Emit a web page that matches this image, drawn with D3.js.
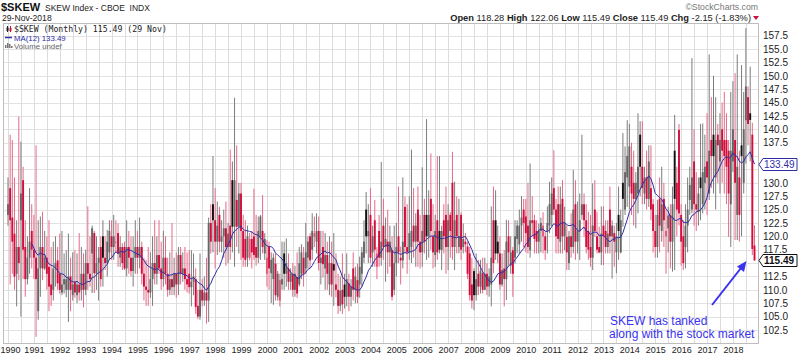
<!DOCTYPE html>
<html><head><meta charset="utf-8">
<script src="https://cdn.jsdelivr.net/npm/d3@7"></script>
<style>
body{margin:0;background:#fff;}
svg{display:block;font-family:"Liberation Sans",Arial,sans-serif;}
</style></head><body>
<svg id="c" width="800" height="358"></svg>
<script>
// ---- data (monthly OHLC, one row per year) ----
const yearLabels = ["1990","1991","1992","1993","1994","1995","1996","1997","1998","1999","2000","2001","2002","2003","2004","2005","2006","2007","2008","2009","2010","2011","2012","2013","2014","2015","2016","2017","2018"];
const openRows = [
[124,129,123.5,120.5,113,118,123,130.5,118,112,116,121],
[117.5,116,106,114,118,114,116,114.3,111,110,114,115.5],
[113,109.5,111,110,110,112.5,109,111.5,109,111,110,113],
[110,115,113,116.8,120.6,113,115,118,120,116,115,117],
[120,118,119,120.6,116,118,118,114,118,116,113.5,116],
[118,116,118,113,110.6,110,109.5,112,115,113,116.5,114],
[112,116,113,110,112,110.5,113,111,116.5,113,114,112],
[113,110.5,111.5,112,107,105,110,108,109.5,108,122.5,126],
[123,119,124,119,120,121.5,118,122,130.5,121.8,126.8,121.8],
[128,121,119.5,116,116,119.5,120,118,116,119.9,121,116.8],
[113,118,113.1,112,114.9,108.7,108,111,116.8,113,114,111.5],
[113,110,112.4,111,113,116,114,116,120,117.5,119.9,119],
[121,115,118,114,116.5,111,115,114.8,111,110,107,110],
[111,108.7,111.2,108.7,114,110,111.8,111,113,116,125,120],
[124,117,123,114.3,121,116,122,118,119,117,117.4,110],
[115,120,116,115.5,125.5,118,117,118,122,119,125,119],
[117,124,124,120,127,120,116.5,123,121,117.5,123,124],
[118,124,130,118,124,118,124,118,119,118.1,116.8,111],
[113.5,109,113,110.6,113.1,110,113,110.6,111,123,123,119],
[116.8,111,114,112,120,114.5,117.4,116,119.5,118.5,122,125],
[123.7,122,117.4,123,123,121,119,121,120,120,121,122],
[124,129,125,126,119,127,120,119.9,115,120,118,126],
[119,121,124,126,123,121,118,116,125,120,118,117],
[122,121,118,125,120,120.6,117,124,117,130,125,131],
[129.3,133,130,127,128,139,133,128,131,127,129,126],
[121,118,127,121,127,120,121.5,124,119,136,130,139.9],
[124,120,118,122,126.8,125,134,126,124.5,131,126,130],
[134,128,138,139,131,139,134,140,138,138,136,126],
[134,138,124,131,137,130,141.7,146,143,139,118.28]];
const highRows = [
[131,139,138,131,123,142.4,137.7,133,123,120,129,126],
[124,137,123,123.7,124.6,121,120,123,118,119,120,118],
[120.5,121,116.8,117.4,120.5,116,117,117.4,116.8,120.6,118,116.8],
[117.5,125.6,120,122,121,120,118,120,123,120,121.2,123],
[123,124,123,122.4,120,118.7,119,123,121,120,120,123],
[121,123.5,119,116,115.6,118,117,120,123,120,123,119],
[121,120,116,117,122.5,116,117,118,118,117,118,117],
[117.4,117.4,116.8,114,110,116.8,112,112.5,116,123.5,126,135],
[129,126.5,125.5,123,125,126.5,122.5,136.2,134,145.9,137,130],
[130,124,123,122,120.6,121,128.9,124,123.7,124,127.7,120.6],
[119.3,119,117,116.8,116.8,113.5,113,119,119,119.6,116.8,114],
[115,114.5,117,118,118.5,118,122.5,120,120.6,124.3,123.7,124.3],
[123.7,121,121,120.6,119,120,119,120.6,116.8,113,112.5,116.8],
[113,116.8,113,112,117,114.3,114.9,116.2,118,123,128.3,126],
[129,122,126.8,118,124,133.9,127,123.5,125,122,120,122],
[122.5,129.3,118.1,131,127.4,126,127.5,136.2,129,124.3,129.3,124],
[132.9,127,141.9,128.6,135.5,126,124,135,135,122,126,129.3],
[126,124.5,135.8,130.2,127.5,127,124.5,122.4,120.6,119,118,116],
[114,116.8,115.6,115.6,116,116,115,114,125.6,129.3,128.6,122],
[120,116.8,117.4,123.1,123,120,118,123,123,125,127.5,127],
[127,130,133.6,127.5,124,123,122.4,123.5,124.5,121,125.6,130.2],
[131,136.1,127,129.3,129.3,130.5,125.5,122,121,124.3,132.4,130.5],
[126.5,128,139,128,126,124.6,124,129.9,130.5,124.6,121.8,125.6],
[125.6,123,123,129.3,123,122,122.5,129.3,125,139.3,136.8,141.7],
[141,137.5,136,132,143,141.5,141.5,133,136,137,137,127],
[124,126.8,131,133,130,125,125.5,126,129.3,142.7,133,141],
[126,123,126,131,133,153.3,140,132,131,141,141.1,139],
[143,154,146,150,146,141,143,145,147,143,138,147],
[149,150.5,154,136,152,147,158.9,148,151.7,141.2,122.06]];
const lowRows = [
[122,111,113,110,106.9,111.8,105,112,108.7,111,113,114],
[112,101.2,104.4,108.7,111.8,113.7,110,106,107,108,110.6,110],
[109.3,109,109.3,108.6,104,106,108,108.5,107.5,108,108,106.7],
[109,110,110.6,109.4,109.4,110,108,110.6,110.6,113.7,112.5,115.6],
[115.6,115.6,117,114.3,114.3,113.7,113.7,112.5,113,112.5,110.6,113],
[113,114,111,108,107,107,108.5,107,111,111,113,110],
[110.6,111,108.7,109,109,109,108.5,109,111,111.5,110,109.5],
[109.3,106.9,109,105.5,104.5,104.4,106.9,107,103.7,104,116.8,117],
[114,116.5,117,117,116,114.5,115,115.6,117,114.3,118,116.8],
[115.6,114.3,114.3,114.3,115.5,114,115.6,114.5,115,115.6,116.8,115.6],
[110.6,110,107.5,107.2,108,108,106.9,110,110,110.6,110,110],
[108.7,108.7,108.5,110.6,112,110.6,113,114,114,115.6,118,116.8],
[113.6,111,112.3,110,110,109,108.7,107,108.6,105.5,106,105.5],
[106.5,106.9,106,106.9,108,107.5,107.5,108.5,110.6,115,116.8,115],
[115,114.3,114.3,112,114.3,114.5,115.6,111.5,113,114.3,108,109],
[112.5,115,111,114,116.8,113,115.6,115,116,114.3,114.3,114],
[114.3,116.8,115.6,116,117.5,114,114.3,115.6,116.8,113.7,116.8,113],
[113.7,116,115.6,113.7,116.8,116.8,115.6,116.8,117,112,108,106.5],
[106.2,108,109,109.3,109.3,110,109,108.7,106.9,113.1,115.6,115],
[110,110.6,106.9,108.1,114.5,113,108.7,114.9,116.8,116.8,119,118],
[117,116.8,116,120,116.8,116.8,116.8,117,116.8,115.6,116.8,120.6],
[121.8,124,116.8,116.8,116.8,116.8,117.4,113.7,113.7,116,116.8,115.6],
[116.8,115.6,123.1,119.9,116.8,115.6,114.3,113.7,119.9,116.8,116.8,114.6],
[114.6,116.8,116.8,116.8,112.1,114.3,113.1,115.6,116.8,121.8,124,125.5],
[125,124,122,121.5,124.3,127.5,126,126,125,125.5,123,117],
[116,116,117,119,118,113,117,114,113.4,113.7,120,122],
[114.5,113.7,114,117,124,124.3,122,121,122,123,124.3,125],
[124,126.8,129,128,125,130,128,130,128,126,119.9,118],
[132,119.3,119.3,119,120,128,133.6,137,134,116.5,115.49]];
const closeRows = [
[126,123,119,112.5,118,115,128,117.5,112,116,119,117.5],
[116,112,114,118,114,116,113,110.6,109,114,115,111.2],
[110,111,112,112,112.5,110,111,109.5,111,109.5,113,110],
[115,113,112,121.5,113.1,115,116,112,116,115,119,121],
[118,120,119,116.8,118,115,114,118,116,113.5,116,118],
[116,118,113,110.6,110,109.5,112,115,113,116.5,114,112],
[116,113,110,112,110.5,113,111,116.5,113,114,112,111],
[110.5,111.5,112.5,106.8,105,110,108,109.5,108,122.5,119,123],
[119,122,119,120,121.5,118,120.5,118,121.8,130.5,121.8,128],
[121,116,115.6,120,119.5,117,116.5,116,121,123.7,118,119.5],
[116,114,115.6,116,109,113,111.8,112,113,115,111.5,113],
[110,113,109.3,115,117,113,117,119,115.5,121,120.6,121],
[115,116,114.8,116.5,113,115,111,113.6,110,107,109.8,107.3],
[108.7,112,108.7,110.6,110,112.5,108.7,114.3,117,119,120,121],
[116,120,117.5,116.8,116,119,118,119.5,117,119,108.7,115],
[118,117,115.5,119,118,117,120.6,121,119,122,119,117],
[121,119,120,124,121,117,121,117,117.5,121,120,118],
[123,121,118,123,120,120,117.5,119.5,118.5,113,109,108],
[109,112,110.6,113.5,110,113,110.6,112.5,116,115,116.8,116.8],
[111,113.7,112,119,117,117,113,120,122,122,123.5,122.5],
[120.6,118,123,122.5,119.5,119,121,122.5,122,117.4,122.5,126],
[128,125,120,119.5,126,120,122.5,117,120,118,125,119],
[121,123,126,123,118,117.5,116,122,121,117.5,117,120.5],
[120,118,120.5,120,122,119,120,121,123,127,132,135],
[136.8,128,127,130,133,133,129,131,127,134,125,121],
[118,124,122,126,123,121,123.9,119,126,127,125,124.3],
[119,115,122,125,129.6,131,126,125,128,129,132,133],
[131,136,135,135,138,137,138,136,135,133,128,136],
[140,130,133,124,135,140,148,141,141.75,117.64,115.49]];
const yTicks = [102.5,105,107.5,110,112.5,115,117.5,120,122.5,125,127.5,130,132.5,135,137.5,140,142.5,145,147.5,150,152.5,155,157.5];
const maPeriod = 12;
const headerLabels = ["Open","High","Low","Close","Chg"];
const headerValues = ["118.28","122.06","115.49","115.49","-2.15 (-1.83%)"];

// ---- build ----
const W=800,H=358,L=3,R=758,T=23,B=343;
const svg=d3.select("#c");
svg.append("rect").attr("width",W).attr("height",H).attr("fill","#fff");

const months=[];
yearLabels.forEach((yr,yi)=>openRows[yi].forEach((_,m)=>months.push(yr+"-"+m)));
const O=openRows.flat(),Hi=highRows.flat(),Lo=lowRows.flat(),C=closeRows.flat();
const data=months.map((k,i)=>({k,o:O[i],h:Hi[i],l:Lo[i],c:C[i],pc:i?C[i-1]:O[i]}));
const ma=[];
for(let i=maPeriod-1;i<C.length;i++){ma.push({k:months[i],v:d3.mean(C.slice(i-maPeriod+1,i+1))});}
const lastMA=ma[ma.length-1].v, lastC=C[C.length-1];

const x=d3.scalePoint().domain(months).range([8,754.5]);
const y=d3.scaleLinear().domain([100.06,159.87]).range([B,T]);

// grid
const grid=svg.append("g");
grid.selectAll("line.h").data(yTicks).join("line")
  .attr("x1",L).attr("x2",R).attr("y1",d=>Math.round(y(d))+0.5).attr("y2",d=>Math.round(y(d))+0.5)
  .attr("stroke","#e2e2e2");
grid.selectAll("line.v").data(months.filter(k=>k.endsWith("-0")||k.endsWith("-6"))).join("line")
  .attr("x1",d=>Math.round(x(d))+0.5).attr("x2",d=>Math.round(x(d))+0.5).attr("y1",T).attr("y2",B)
  .attr("stroke","#dcdcdc");

// frame
svg.append("rect").attr("x",L+0.5).attr("y",T+0.5).attr("width",R-L).attr("height",B-T)
  .attr("fill","none").attr("stroke","#bdbdbd");

// legend
const lg=svg.append("g");
lg.append("line").attr("x1",7.5).attr("x2",7.5).attr("y1",26).attr("y2",32).attr("stroke","#222");
lg.append("rect").attr("x",6.5).attr("y",27.5).attr("width",2).attr("height",3.5).attr("fill","#222");
lg.append("line").attr("x1",10.5).attr("x2",10.5).attr("y1",26).attr("y2",32).attr("stroke","#d0103a");
lg.append("rect").attr("x",9.5).attr("y",28).attr("width",2).attr("height",3).attr("fill","#d0103a");
lg.append("text").attr("x",14).attr("y",31.5).attr("font-family","'DejaVu Sans Mono',monospace")
  .attr("font-size",8.2).attr("fill","#222").text("$SKEW (Monthly) 115.49 (29 Nov)");
lg.append("line").attr("x1",5).attr("x2",12).attr("y1",37.5).attr("y2",37.5).attr("stroke","#2b2ba8").attr("stroke-width",1.5);
lg.append("text").attr("x",14).attr("y",40.5).attr("font-size",7.8).attr("fill","#2b2ba8")
  .text("MA(12) "+lastMA.toFixed(2));
[[5,45,3],[7,43,5],[9,44,4],[11,46,2]].forEach(b=>lg.append("rect").attr("x",b[0]).attr("y",b[1]).attr("width",1.5).attr("height",b[2]).attr("fill","#777"));
lg.append("text").attr("x",14).attr("y",49.3).attr("font-size",7.8).attr("fill","#666").text("Volume undef");

// candles
const cg=svg.append("g");
const up=d=>d.c>=d.pc;
cg.selectAll("line.w").data(data).join("line")
  .attr("x1",d=>x(d.k)).attr("x2",d=>x(d.k))
  .attr("y1",d=>y(Math.max(d.h,d.o,d.c))).attr("y2",d=>y(Math.min(d.l,d.o,d.c)))
  .attr("stroke",d=>up(d)?"#7c7c7c":"#e66a88").attr("stroke-width",1);
cg.selectAll("rect.b").data(data).join("rect")
  .attr("x",d=>x(d.k)-0.95).attr("width",1.9)
  .attr("y",d=>y(Math.max(d.o,d.c)))
  .attr("height",d=>Math.max(1,Math.abs(y(d.o)-y(d.c))))
  .attr("fill",d=>{const filled=d.c<d.o; return up(d)?(filled?"#111":"#666"):(filled?"#d40c3c":"#e4587a");});

// MA line
svg.append("path").datum(ma).attr("fill","none").attr("stroke","#2e2ea6").attr("stroke-width",1)
  .attr("d",d3.line().x(d=>x(d.k)).y(d=>y(d.v)));

// axes
const tagYs=[y(lastMA),y(lastC)];
const ay=svg.append("g").attr("transform",`translate(${R},0)`)
  .call(d3.axisRight(y).tickValues(yTicks).tickFormat(d3.format(".1f")).tickSize(0).tickPadding(5));
ay.select(".domain").remove();
ay.selectAll(".tick").filter(d=>tagYs.some(t=>Math.abs(y(d)-t)<9)).remove();
ay.selectAll("text").attr("font-size",10).attr("font-family","'Liberation Sans',Arial,sans-serif").attr("fill","#222");
const ax=svg.append("g").attr("transform",`translate(0,${B})`)
  .call(d3.axisBottom(x).tickValues(months.filter(k=>k.endsWith("-0"))).tickFormat(k=>k.slice(0,4)).tickSize(0).tickPadding(4));
ax.select(".domain").remove();
ax.selectAll("text").attr("font-size",9).attr("font-family","'Liberation Sans',Arial,sans-serif").attr("fill","#222");
ax.selectAll(".tick").filter(d=>d===months[0]).select("text").attr("text-anchor","start").attr("x",-x(months[0]));

// value tags
function tag(v,stroke,txt,bold){
  const yy=Math.round(y(v))+0.5;
  const g=svg.append("g");
  g.append("path").attr("d",`M${R+1},${yy} L${R+5},${yy-6} L${R+39},${yy-6} L${R+39},${yy+6} L${R+5},${yy+6} Z`)
    .attr("fill","#fff").attr("stroke",stroke);
  g.append("text").attr("x",R+6).attr("y",yy+3.5).attr("font-size",10).attr("font-weight",bold?"bold":"normal")
    .attr("fill",txt).text(v.toFixed(2));
}
tag(lastMA,"#2e2ea6","#2e2ea6",false);
tag(lastC,"#111","#111",true);

// header
svg.append("text").attr("x",1).attr("y",11).attr("font-size",11).attr("font-weight","bold").attr("fill","#111").text("$SKEW");
svg.append("text").attr("x",45).attr("y",11).attr("font-size",8.5).attr("fill","#222").attr("xml:space","preserve").text("SKEW Index - CBOE  INDX");
svg.append("text").attr("x",2).attr("y",20.5).attr("font-size",8.6).attr("fill","#222").text("29-Nov-2018");
svg.append("text").attr("x",758).attr("y",9.5).attr("text-anchor","end").attr("font-size",8.7).attr("fill","#777").text("\u00A9StockCharts.com");
const ht=svg.append("text").attr("x",751).attr("y",20.5).attr("text-anchor","end").attr("font-size",9.3).attr("fill","#222");
headerLabels.forEach((lab,i)=>{
  ht.append("tspan").attr("font-weight","bold").text((i?" ":"")+lab+" ");
  ht.append("tspan").text(headerValues[i]);
});
svg.append("path").attr("d","M753,16 L759,16 L756,20 Z").attr("fill","#d0103a");

// annotation
const blue="#3a32f0";
svg.append("text").attr("x",610).attr("y",325).attr("font-size",12).attr("fill",blue).text("SKEW has tanked");
svg.append("text").attr("x",609).attr("y",338).attr("font-size",12).attr("fill",blue).text("along with the stock market");
svg.append("line").attr("x1",712).attr("y1",305).attr("x2",741).attr("y2",268).attr("stroke",blue).attr("stroke-width",2);
svg.append("path").attr("d","M746.5,261 L737,266.5 L744,272 Z").attr("fill",blue);
</script>
</body></html>
